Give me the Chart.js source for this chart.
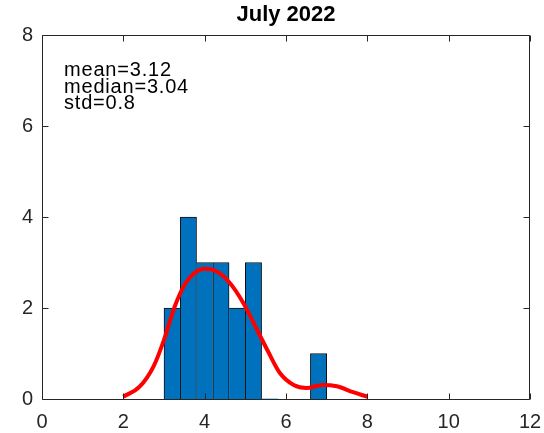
<!DOCTYPE html>
<html>
<head>
<meta charset="utf-8">
<script src="https://cdn.jsdelivr.net/npm/chart.js@4/dist/chart.umd.min.js"></script>
<style>
html,body{margin:0;padding:0;background:#ffffff;}
#wrap{width:544px;height:433px;}
</style>
</head>
<body>
<div id="wrap"><canvas id="c" width="544" height="433"></canvas></div>
<script>
// ---- data ----
const titleText = 'July 2022';
const binEdges = [3.0, 3.4, 3.8, 4.2, 4.6, 5.0, 5.4, 5.8, 6.2, 6.6, 7.0];
const binCounts = [2, 4, 3, 3, 2, 3, 0, 0, 0, 1];
const curveX = [2, 2.4, 2.75, 3, 3.25, 3.5, 3.75, 4, 4.3, 4.6, 4.95, 5.3, 5.55, 5.85, 6.2, 6.5, 6.9, 7.25, 7.65, 8];
const curveY = [0.05, 0.27, 0.73, 1.30, 2.00, 2.50, 2.77, 2.86, 2.80, 2.57, 2.11, 1.50, 1.06, 0.57, 0.30, 0.24, 0.31, 0.28, 0.15, 0.05];
const xTicks = [0, 2, 4, 6, 8, 10, 12];
const yTicks = [0, 2, 4, 6, 8];
const statsLines = ['mean=3.12', 'median=3.04', 'std=0.8'];

// ---- styles ----
const FONT = '"Liberation Sans", Arial, Helvetica, sans-serif';
const AXIS_COLOR = '#262626';

const barData = binCounts.map((c, i) => ({ x: (binEdges[i] + binEdges[i + 1]) / 2, y: c }));
const curveData = curveX.map((x, i) => ({ x: x, y: curveY[i] }));

const framePlugin = {
  id: 'frame',
  afterDraw(chart) {
    const { ctx, chartArea: a, scales } = chart;
    const xs = scales.x, ys = scales.y;
    ctx.save();
    ctx.strokeStyle = AXIS_COLOR;
    ctx.lineWidth = 1;
    ctx.beginPath();
    ctx.moveTo(a.left + 0.5, a.top + 0.5);
    ctx.lineTo(a.right - 0.5, a.top + 0.5);
    ctx.lineTo(a.right - 0.5, a.bottom + 0.5);
    ctx.lineTo(a.left + 0.5, a.bottom + 0.5);
    ctx.closePath();
    const TL = 6;
    xs.ticks.forEach(t => {
      const px = Math.round(xs.getPixelForValue(t.value)) + 0.5;
      ctx.moveTo(px, a.bottom + 0.5); ctx.lineTo(px, a.bottom + 0.5 - TL);
      ctx.moveTo(px, a.top + 0.5); ctx.lineTo(px, a.top + 0.5 + TL);
    });
    ys.ticks.forEach(t => {
      const py = Math.round(ys.getPixelForValue(t.value)) + 0.5;
      ctx.moveTo(a.left + 0.5, py); ctx.lineTo(a.left + 0.5 + TL, py);
      ctx.moveTo(a.right - 0.5, py); ctx.lineTo(a.right - 0.5 - TL, py);
    });
    ctx.stroke();
    ctx.fillStyle = '#000000';
    ctx.font = '20px ' + FONT;
    ctx.textAlign = 'left';
    ctx.textBaseline = 'alphabetic';
    try { ctx.letterSpacing = '0.8px'; } catch (e) {}
    statsLines.forEach((s, i) => {
      ctx.fillText(s, a.left + 22, a.top + 41 + i * 16.7);
    });
    ctx.restore();
  }
};

new Chart(document.getElementById('c'), {
  type: 'bar',
  data: {
    datasets: [
      {
        type: 'line',
        data: curveData,
        borderColor: '#ff0000',
        borderWidth: 4,
        pointRadius: 0,
        fill: false,
        cubicInterpolationMode: 'monotone',
        order: 0
      },
      {
        type: 'bar',
        data: barData,
        backgroundColor: '#0072BD',
        borderColor: '#111111',
        borderSkipped: false,
        borderWidth: (c) => {
          const i = c.dataIndex;
          const v = binCounts[i];
          const p = i > 0 ? binCounts[i - 1] : -1;
          const n = i < binCounts.length - 1 ? binCounts[i + 1] : -1;
          return { left: p <= v ? 1 : 0, right: n < v ? 1 : 0, top: 1, bottom: 0 };
        },
        barPercentage: 1,
        categoryPercentage: 1,
        order: 1
      }
    ]
  },
  options: {
    responsive: false,
    animation: false,
    events: [],
    layout: { padding: { left: 0, right: 14, top: 0, bottom: 0 } },
    plugins: {
      legend: { display: false },
      tooltip: { enabled: false },
      title: {
        display: true,
        text: titleText,
        fullSize: false,
        color: '#000000',
        font: { family: FONT, size: 22, weight: 'bold', lineHeight: 1.2 },
        padding: { top: 2, bottom: 6.6 }
      }
    },
    scales: {
      x: {
        type: 'linear',
        min: 0, max: 12,
        offset: false,
        grid: { display: false, drawTicks: false },
        border: { display: false },
        ticks: {
          color: AXIS_COLOR,
          font: { family: FONT, size: 20 },
          padding: 11,
          maxRotation: 0,
          autoSkip: false
        },
        afterBuildTicks: (s) => { s.ticks = xTicks.map(v => ({ value: v })); },
        afterFit: (s) => { s.height = 34; s.paddingLeft = 0; s.paddingRight = 0; }
      },
      y: {
        type: 'linear',
        min: 0, max: 8,
        grid: { display: false, drawTicks: false },
        border: { display: false },
        ticks: {
          color: AXIS_COLOR,
          font: { family: FONT, size: 20 },
          padding: 9
        },
        afterBuildTicks: (s) => { s.ticks = yTicks.map(v => ({ value: v })); },
        afterFit: (s) => { s.width = 42; s.paddingTop = 0; s.paddingBottom = 0; }
      }
    }
  },
  plugins: [framePlugin]
});
</script>
</body>
</html>
